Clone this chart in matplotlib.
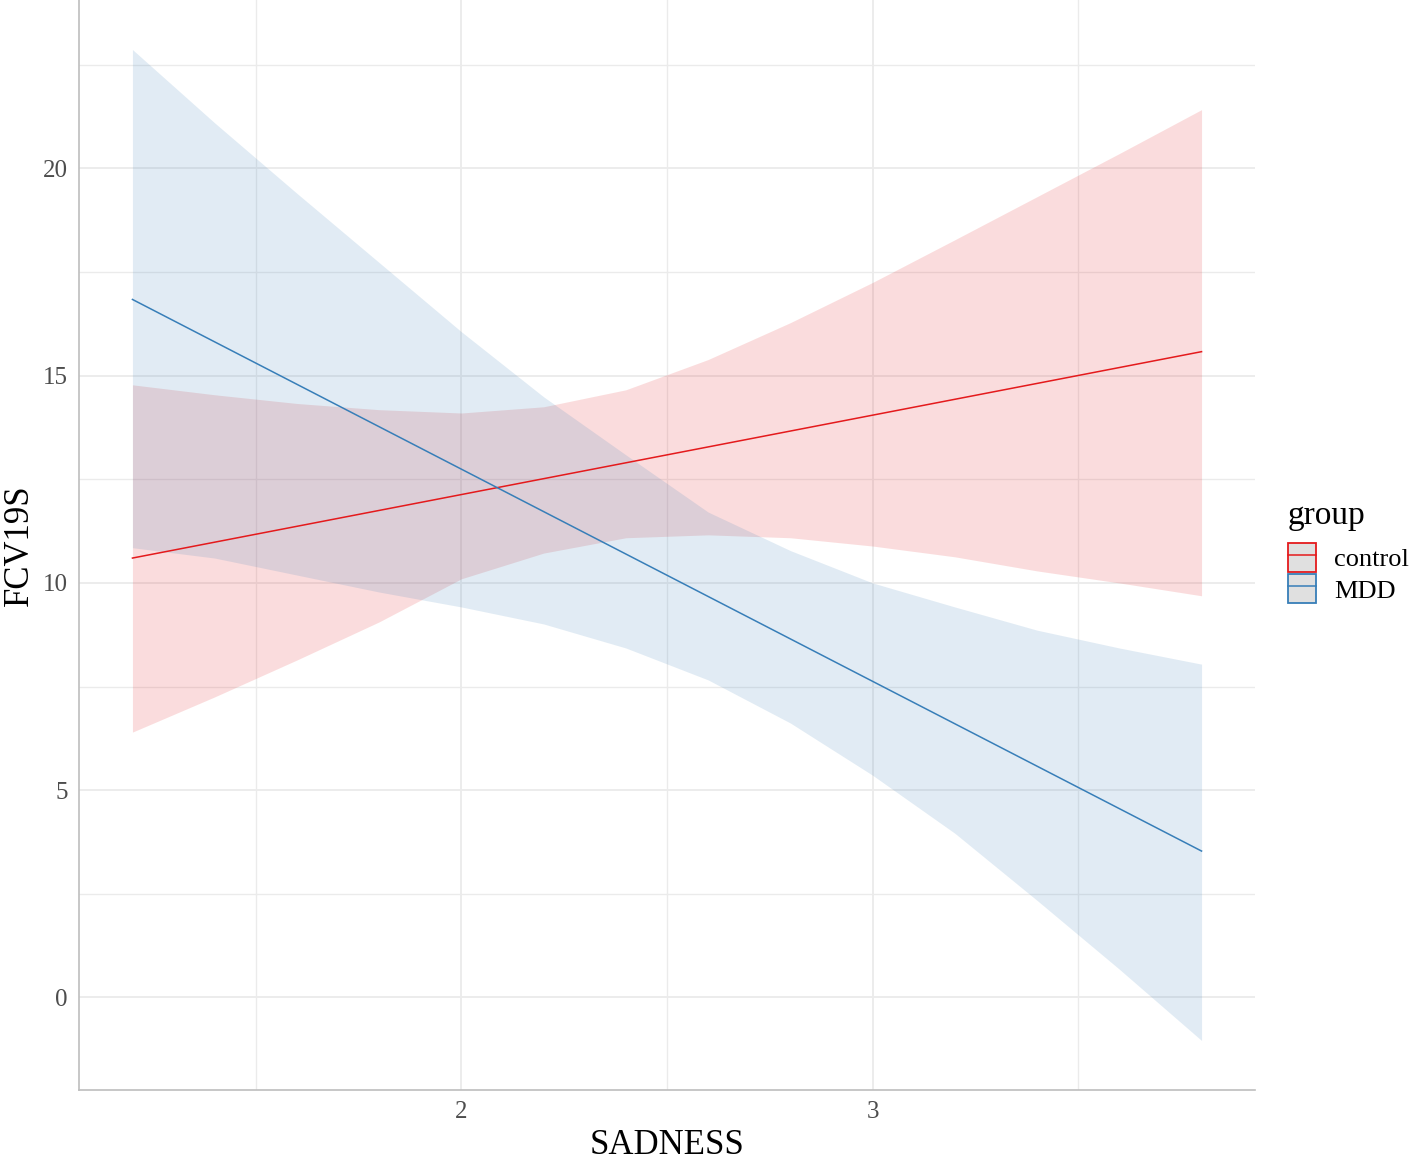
import numpy as np
import matplotlib
matplotlib.use("Agg")
from matplotlib import pyplot as plt
from matplotlib.patches import Patch
from matplotlib.lines import Line2D

plt.rcParams['font.family'] = ['Liberation Serif', 'DejaVu Serif']

# Values
sadness = [1.2, 1.4, 1.6, 1.8, 2.0, 2.2, 2.4, 2.6, 2.8, 3.0, 3.2, 3.4, 3.6, 3.8]

control_upper = [14.78, 14.54, 14.33, 14.18, 14.10, 14.25, 14.66, 15.39, 16.28,
                 17.25, 18.28, 19.32, 20.36, 21.42]
control_lower = [6.40, 7.25, 8.14, 9.06, 10.10, 10.72, 11.09, 11.16, 11.09,
                 10.89, 10.63, 10.29, 10.00, 9.69]
mdd_upper = [22.87, 21.10, 19.40, 17.73, 16.06, 14.49, 13.09, 11.71, 10.78,
             10.00, 9.42, 8.86, 8.43, 8.04]
mdd_lower = [10.85, 10.60, 10.19, 9.78, 9.42, 9.01, 8.43, 7.66, 6.62,
             5.36, 3.96, 2.34, 0.68, -1.04]

# fitted lines (straight, endpoints)
line_x = [1.2, 3.8]
control_fit = [10.60, 15.58]
mdd_fit = [16.84, 3.53]

groups = ['control', 'MDD']
colors = {'control': '#E41A1C', 'MDD': '#377EB8'}

fig = plt.figure(figsize=(14.16, 11.59), dpi=100)
ax = fig.add_axes([79 / 1416, 1 - 1090 / 1159, (1255 - 79) / 1416, 1090 / 1159])

ax.fill_between(sadness, control_lower, control_upper, color=colors['control'],
                alpha=0.15, linewidth=0)
ax.fill_between(sadness, mdd_lower, mdd_upper, color=colors['MDD'],
                alpha=0.15, linewidth=0)
ax.plot(line_x, control_fit, color=colors['control'], lw=1.1)
ax.plot(line_x, mdd_fit, color=colors['MDD'], lw=1.1)

# scales with ggplot-like 5% expansion
xr = max(sadness) - min(sadness)
ax.set_xlim(min(sadness) - 0.05 * xr, max(sadness) + 0.05 * xr)
ymin, ymax = min(mdd_lower), max(mdd_upper)
yr = ymax - ymin
ax.set_ylim(ymin - 0.05 * yr, ymax + 0.05 * yr)

ax.set_xticks([2, 3])
ax.set_xticks([1.5, 2.5, 3.5], minor=True)
ax.set_yticks([0, 5, 10, 15, 20])
ax.set_yticks([2.5, 7.5, 12.5, 17.5, 22.5], minor=True)
ax.grid(True, which='major', color='#EBEBEB', lw=1.3)
ax.grid(True, which='minor', color='#EBEBEB', lw=1.0)
ax.set_axisbelow(True)
ax.tick_params(which='both', length=0, labelsize=18, labelcolor='#4D4D4D', pad=8)

for s in ['top', 'right']:
    ax.spines[s].set_visible(False)
for s in ['left', 'bottom']:
    ax.spines[s].set_color('#BEBEBE')
    ax.spines[s].set_linewidth(1.2)

ax.set_xlabel('SADNESS', fontsize=25, labelpad=4)
ax.set_ylabel('FCV19S', fontsize=25)
ax.yaxis.set_label_coords(-0.037, 0.5)

handles = [(Patch(facecolor='#E0E0E0', edgecolor=colors[g], lw=1.3),
            Line2D([], [], color=colors[g], lw=1.1)) for g in groups]
leg = fig.legend(handles, groups, title='group', loc='upper left',
                 bbox_to_anchor=(1288 / 1416, 1 - 500 / 1159), frameon=False,
                 fontsize=19, title_fontsize=24, handlelength=1.05,
                 handleheight=1.3, handletextpad=0.7, labelspacing=0.1,
                 borderaxespad=0, borderpad=0)
leg._legend_box.align = 'left'
leg._legend_box.sep = 9  # more room between title and keys

fig.savefig('out.png', dpi=100)
